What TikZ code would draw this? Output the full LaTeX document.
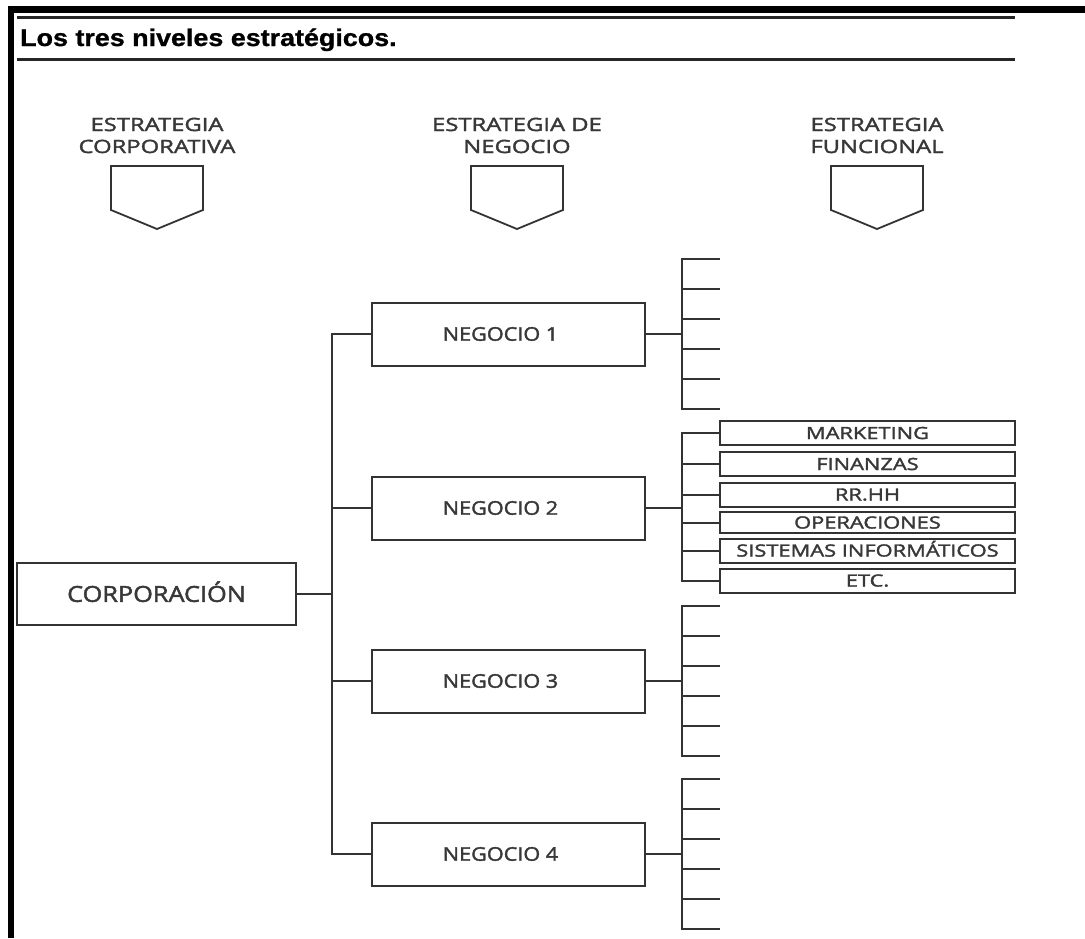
\documentclass[tikz,border=0pt]{standalone}
\usepackage{fontspec}
\usetikzlibrary{calc}
\newfontfamily\lblfont[FakeStretch=1.3,FakeBold=2]{Open Sans}
\newfontfamily\boxfont[FakeStretch=1.15,FakeBold=2]{Open Sans}
\newfontfamily\ttlfont[FakeStretch=1.12,FakeBold=1]{Liberation Sans}
\definecolor{ink}{gray}{0.2}
\definecolor{txt}{gray}{0.22}

\begin{document}
\begin{tikzpicture}[x=1pt,y=-1pt,
  ln/.style={draw=ink,line width=2pt},
  box/.style={draw=ink,line width=2pt,rectangle,inner sep=0pt,outer sep=0pt,
    text=txt,text depth=0pt},
  mainbox/.style={box,minimum width=273pt,minimum height=63pt,text height=13.4pt,
    font=\boxfont\fontsize{18.8}{22}\selectfont},
  fnbox/.style={box,minimum width=295pt,minimum height=24pt,text height=12pt,
    font=\lblfont\fontsize{16.8}{19}\selectfont},
  head/.style={inner sep=0pt,anchor=base,text=txt,
    font=\lblfont\fontsize{18.3}{22}\selectfont},
  tipshape/.style={draw=ink,line width=1.8pt,line join=miter},
  rule/.style={draw=black!85,line width=3pt}
]
\useasboundingbox[fill=white] (0,0) rectangle (1085,938);

% page frame
\fill[black] (8,6) rectangle (1085,12.5);
\fill[black] (8,6) rectangle (14,938);

% title between two rules
\draw[rule] (17,17.5) -- (1015,17.5);
\draw[rule] (17,59.5) -- (1015,59.5);
\node[anchor=base west,inner sep=0pt,
  font=\ttlfont\bfseries\fontsize{24}{27}\selectfont] (title) at (20,46)
  {Los tres niveles estratégicos.};

% level headings
\node[head] (hA1) at (157,131) {ESTRATEGIA};
\node[head] (hA2) at (157,153) {CORPORATIVA};
\node[head] (hB1) at (517,131) {ESTRATEGIA DE};
\node[head] (hB2) at (517,153) {NEGOCIO};
\node[head] (hC1) at (877,131) {ESTRATEGIA};
\node[head] (hC2) at (877,153) {FUNCIONAL};

% downward pointers under the headings
\foreach \cx in {157,517,877}
  \draw[tipshape] (\cx-46,166) -- (\cx+46,166) -- (\cx+46,210)
    -- (\cx,229) -- (\cx-46,210) -- cycle;

% corporation and businesses (business labels sit a little left of centre)
\node[box,minimum width=279pt,minimum height=62pt,text height=15.7pt,
  font=\boxfont\fontsize{22}{25}\selectfont] (corp) at (156.5,594) {CORPORACIÓN};
\node[mainbox] (n1) at (508.5,334) {NEGOCIO 1\hspace*{16pt}};
\node[mainbox] (n2) at (508.5,508) {NEGOCIO 2\hspace*{16pt}};
\node[mainbox] (n3) at (508.5,681) {NEGOCIO 3\hspace*{16pt}};
\node[mainbox] (n4) at (508.5,854) {NEGOCIO 4\hspace*{16pt}};

\coordinate (hub) at (332,594);
\draw[ln] (corp.east) -- (hub);
\foreach \k in {1,...,4}
  \draw[ln] (n\k.west) -| (hub);

% functional areas of business 2
\node[fnbox] (f1) at (867.5,433)   {MARKETING};
\node[fnbox] (f2) at (867.5,464)   {FINANZAS};
\node[fnbox] (f3) at (867.5,494.5) {RR.HH};
\node[fnbox,minimum height=21pt] (f4) at (867.5,522.5) {OPERACIONES};
\node[fnbox] (f5) at (867.5,550.5) {SISTEMAS INFORMÁTICOS};
\node[fnbox] (f6) at (867.5,580.5) {ETC.};
\foreach \i in {1,...,6}
  \draw[ln] (n2.east) -- ++(37,0) |- (f\i.west);

% open functional branches of the other businesses
\foreach \k in {1,3,4}
  \foreach \d [count=\i] in {-75,-45,-15,15,45,75} {
    \coordinate (t\k-\i) at ($(n\k.east)+(75,\d)$);
    \draw[ln] (n\k.east) -- ++(37,0) |- (t\k-\i);
  }
\end{tikzpicture}
\end{document}
